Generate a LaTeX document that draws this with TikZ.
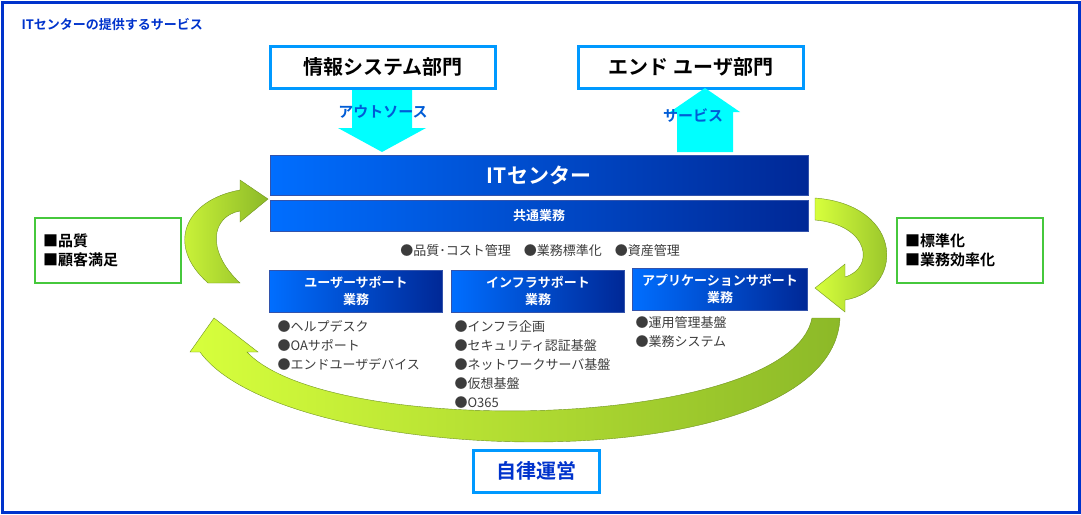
\documentclass[tikz,border=0pt]{standalone}
\usepackage{fontspec}
\setmainfont{Noto Sans CJK JP}
\newfontfamily\jpb{Noto Sans CJK JP Bold}
\usetikzlibrary{shadings}
\definecolor{frame}{RGB}{0,51,204}
\definecolor{lblue}{RGB}{0,153,255}
\definecolor{gborder}{RGB}{70,200,60}
\definecolor{cy}{RGB}{0,255,255}
\definecolor{bA}{RGB}{0,110,255}
\definecolor{bB}{RGB}{0,40,150}
\definecolor{gA}{RGB}{215,255,60}
\definecolor{gB}{RGB}{140,185,40}
\definecolor{txt}{RGB}{60,60,60}
\begin{document}
\begin{tikzpicture}[x=1pt,y=-1pt,
  topbox/.style={draw=lblue,line width=3pt,fill=white,minimum width=225pt,minimum height=42pt,font=\jpb\fontsize{20}{21}\selectfont},
  bar/.style={draw=bB!80,left color=bA,right color=bB,text=white,font=\jpb},
  gbox/.style={draw=gborder,line width=2pt,minimum width=146pt,minimum height=65pt,text width=130pt,align=left,font=\jpb\fontsize{15}{19}\selectfont},
  garrow/.style={left color=gA,right color=gB,draw=gB!80!black,line width=0.4pt},
  item/.style={anchor=west,align=left,text=txt,font=\fontsize{13}{19}\selectfont}]
\useasboundingbox (0,0) rectangle (1081,514);
\draw[frame,line width=3pt] (2,2) rectangle (1079,512);
\node[anchor=west,text=frame,font=\jpb\fontsize{13}{14}\selectfont] (title) at (18,25) {ITセンターの提供するサービス};
\node[topbox] (is) at (383,67) {情報システム部門};
\node[topbox] (eu) at (691,67) {エンド ユーザ部門};
% arrows
\fill[cy] (352,90) -- (412,90) -- (412,128) -- (426,128) -- (382,152) -- (338,128) -- (352,128) -- cycle;
\fill[cy] (677,152) -- (733,152) -- (733,112) -- (740,112) -- (705,88) -- (670,112) -- (677,112) -- cycle;
\node[text=frame!80!cyan,font=\jpb\fontsize{15}{16}\selectfont] (out) at (383,112) {アウトソース};
\node[text=frame!80!cyan,font=\jpb\fontsize{15}{16}\selectfont] (srv) at (693,116) {サービス};
% green arrows
\path[garrow] (208,283) .. controls (165,245) and (185,200) .. (240,190) -- (240,180) -- (268,199) -- (240,222) -- (240,211) .. controls (212,216) and (205,250) .. (240,283) -- cycle;
\path[garrow] (815,198) .. controls (905,205) and (905,290) .. (845,300) -- (845,312) -- (815,288) -- (845,264) -- (845,277) .. controls (875,268) and (870,225) .. (815,220) -- cycle;
\path[garrow] (840,318) .. controls (832,485) and (285,470) .. (200,352) -- (190,352) -- (214,318) -- (258,352) -- (247,352) .. controls (330,440) and (790,430) .. (812,318) -- cycle;
% bars
\node[bar,minimum width=538pt,minimum height=40pt,font=\jpb\fontsize{21}{22}\selectfont] (itc) at (539,175) {ITセンター};
\node[bar,minimum width=538pt,minimum height=31pt,font=\jpb\fontsize{13}{14}\selectfont] (kyo) at (539,216) {共通業務};
\node[text=txt,font=\fontsize{13}{14}\selectfont] (kl) at (540,251) {●品質･コスト管理\quad ●業務標準化\quad ●資産管理};
\node[bar,minimum width=173pt,minimum height=42pt,align=center,font=\jpb\fontsize{13}{17}\selectfont] (us) at (356,291) {ユーザーサポート\\業務};
\node[bar,minimum width=173pt,minimum height=42pt,align=center,font=\jpb\fontsize{13}{17}\selectfont] (inf) at (538,291) {インフラサポート\\業務};
\node[bar,minimum width=175pt,minimum height=42pt,align=center,font=\jpb\fontsize{13}{17}\selectfont] (app) at (720,289) {アプリケーションサポート\\業務};
\node[item,anchor=north west] (l1) at (274,317) {●ヘルプデスク\\●OAサポート\\●エンドユーザデバイス};
\node[item,anchor=north west] (l2) at (451,317) {●インフラ企画\\●セキュリティ認証基盤\\●ネットワークサーバ基盤\\●仮想基盤\\●O365};
\node[item,anchor=north west] (l3) at (632,313) {●運用管理基盤\\●業務システム};
\node[gbox] (q) at (108,250) {■品質\\■顧客満足};
\node[gbox] (s) at (970,250) {■標準化\\■業務効率化};
\node[topbox,minimum width=126pt,minimum height=42pt,text=frame] (jr) at (536,471) {自律運営};
\end{tikzpicture}
\end{document}
